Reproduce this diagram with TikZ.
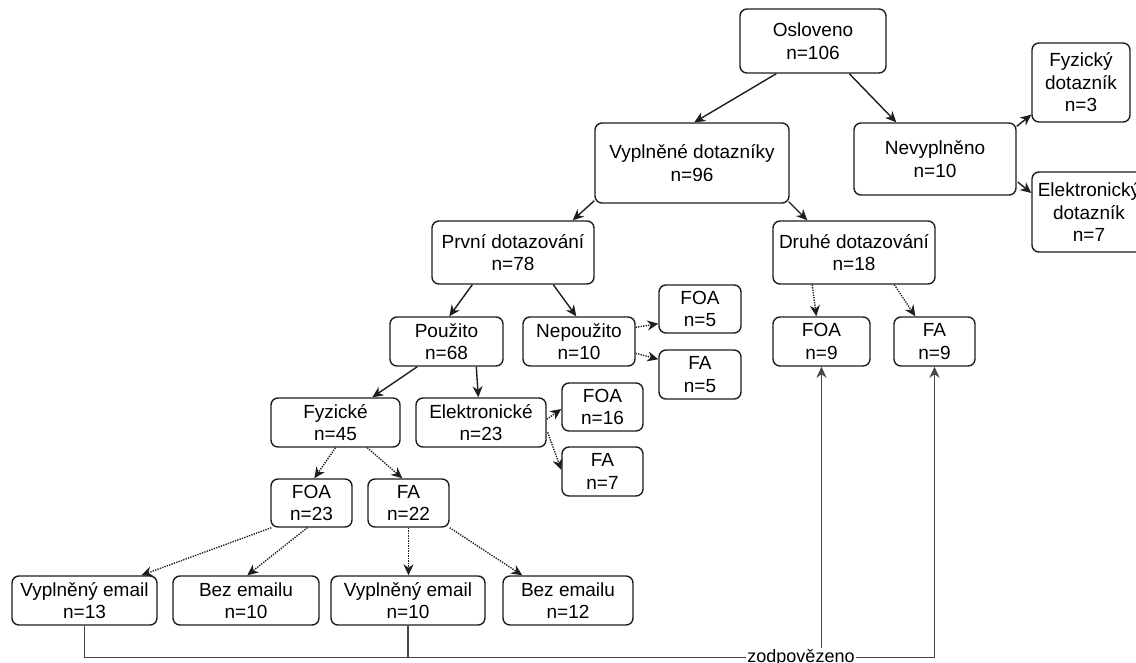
\documentclass[tikz,border=0pt]{standalone}
\usepackage{fontspec}
\setmainfont{Liberation Sans}
\usetikzlibrary{arrows.meta,calc}
\definecolor{ln}{RGB}{30,30,30}
\definecolor{gl}{RGB}{70,70,70}
\begin{document}
\begin{tikzpicture}[x=1pt,y=-1pt,
  box/.style={draw=ln,line width=1.4pt,rounded corners=7pt,fill=white,align=center,inner sep=0pt,font=\fontsize{19}{22.5}\selectfont,text=black},
  tipA/.style={-{Stealth[length=11pt,width=10pt,inset=3.5pt]}},
  arr/.style={draw=ln,line width=1.4pt,tipA},
  dot/.style={arr,dash pattern=on 1.3pt off 1.2pt},
  conn/.style={draw=gl,line width=1.8pt},
  lbl/.style={fill=white,inner sep=1pt,font=\fontsize{18}{20}\selectfont,text=black}]
\fill[white] (0,0) rectangle (1136,662);
\useasboundingbox (0,0) rectangle (1136,662);

% nodes
\node[box,minimum width=146pt,minimum height=64pt] (osl) at (813,41) {Osloveno\\n=106};
\node[box,minimum width=98pt,minimum height=79pt] (fyzd) at (1081,82.5) {Fyzický\\dotazník\\n=3};
\node[box,minimum width=194pt,minimum height=80pt] (vyp) at (692,163) {Vyplněné dotazníky\\n=96};
\node[box,minimum width=162pt,minimum height=72pt] (nev) at (935,159) {Nevyplněno\\n=10};
\node[box,minimum width=114pt,minimum height=80pt] (elekd) at (1089,212) {Elektronický\\dotazník\\n=7};
\node[box,minimum width=162pt,minimum height=63pt] (prvni) at (513,252.5) {První dotazování\\n=78};
\node[box,minimum width=162pt,minimum height=63pt] (druhe) at (854,252.5) {Druhé dotazování\\n=18};
\node[box,minimum width=113pt,minimum height=49pt] (pouz) at (446.5,341.5) {Použito\\n=68};
\node[box,minimum width=112pt,minimum height=49pt] (nepouz) at (579,341.5) {Nepoužito\\n=10};
\node[box,minimum width=82pt,minimum height=48pt] (foa5) at (700,309) {FOA\\n=5};
\node[box,minimum width=82pt,minimum height=49pt] (fa5) at (700,374.5) {FA\\n=5};
\node[box,minimum width=97pt,minimum height=49pt] (foa9) at (821.5,341.5) {FOA\\n=9};
\node[box,minimum width=81pt,minimum height=49pt] (fa9) at (934.5,341.5) {FA\\n=9};
\node[box,minimum width=129pt,minimum height=49pt] (fyz) at (335.5,422.5) {Fyzické\\n=45};
\node[box,minimum width=130pt,minimum height=49pt] (elek) at (481,422.5) {Elektronické\\n=23};
\node[box,minimum width=81pt,minimum height=48pt] (foa16) at (602.5,407) {FOA\\n=16};
\node[box,minimum width=81pt,minimum height=49pt] (fa7) at (602.5,471.5) {FA\\n=7};
\node[box,minimum width=81pt,minimum height=48pt] (foa23) at (311.5,503) {FOA\\n=23};
\node[box,minimum width=81pt,minimum height=48pt] (fa22) at (408.5,503) {FA\\n=22};
\node[box,minimum width=145pt,minimum height=49pt] (ve13) at (84.5,600.5) {Vyplněný email\\n=13};
\node[box,minimum width=146pt,minimum height=49pt] (bez10) at (246,600.5) {Bez emailu\\n=10};
\node[box,minimum width=154pt,minimum height=49pt] (ve10) at (408,600.5) {Vyplněný email\\n=10};
\node[box,minimum width=130pt,minimum height=49pt] (bez12) at (568,600.5) {Bez emailu\\n=12};
\node[lbl] (zod) at (801,657.5) {zodpovězeno};

% solid connectors
\draw[arr] ($(osl.south west)+(37,0)$) -- ($(vyp.north west)+(100,0)$);
\draw[arr] ($(osl.south west)+(110,0)$) -- ($(nev.north west)+(43,0)$);
\draw[arr] ($(nev.north east)+(0,4)$) -- ($(fyzd.south west)+(0,-8)$);
\draw[arr] ($(nev.east)+(1,23)$) -- ($(elekd.west)+(0,-19)$);
\draw[arr] ($(vyp.south west)+(0,-3)$) -- ($(prvni.north east)+(-22,0)$);
\draw[arr] ($(vyp.south east)+(-1,-2)$) -- ($(druhe.north west)+(35,0)$);
\draw[arr] ($(prvni.south west)+(41,0)$) -- ($(pouz.north west)+(60,0)$);
\draw[arr] ($(prvni.south west)+(122,0)$) -- ($(nepouz.north west)+(54,0)$);
\draw[arr] ($(pouz.south west)+(28,0)$) -- ($(fyz.north west)+(102,0)$);
\draw[arr] ($(pouz.south west)+(87,0)$) -- ($(elek.north west)+(63,0)$);

% dotted connectors
\draw[dot] ($(nepouz.north east)+(0,11)$) -- ($(foa5.south west)+(0,-10)$);
\draw[dot] ($(nepouz.north east)+(0,37)$) -- ($(fa5.north west)+(0,10)$);
\draw[dot] ($(druhe.south west)+(40,0)$) -- ($(foa9.north west)+(44,0)$);
\draw[dot] ($(druhe.south west)+(122,0)$) -- ($(fa9.north west)+(22,0)$);
\draw[dot] ($(elek.north east)+(0,22)$) -- ($(foa16.west)+(0,2)$);
\draw[dot] ($(elek.north east)+(1,35)$) -- ($(fa7.west)+(0,-1.5)$);
\draw[dot] (fyz.south) -- ($(foa23.north west)+(44,0)$);
\draw[dot] ($(fyz.south west)+(97,0)$) -- ($(fa22.north west)+(35,0)$);
\draw[dot] ($(foa23.south west)+(1,0)$) -- ($(ve13.north west)+(130,0)$);
\draw[dot] ($(foa23.south west)+(37,0)$) -- ($(bez10.north west)+(75,0)$);
\draw[dot] (fa22.south) -- (fa22.south |- ve10.north);
\draw[dot] (fa22.south east) -- ($(bez12.north west)+(20,0)$);

% answered connectors
\draw[conn] (ve13.south) |- (zod.west);
\draw[conn] (ve10.south) -- (ve10.south |- zod.west);
\draw[conn,tipA] (zod.east) -| (fa9.south);
\draw[conn,tipA] (zod.north -| foa9.south) -- (foa9.south);
\end{tikzpicture}
\end{document}
